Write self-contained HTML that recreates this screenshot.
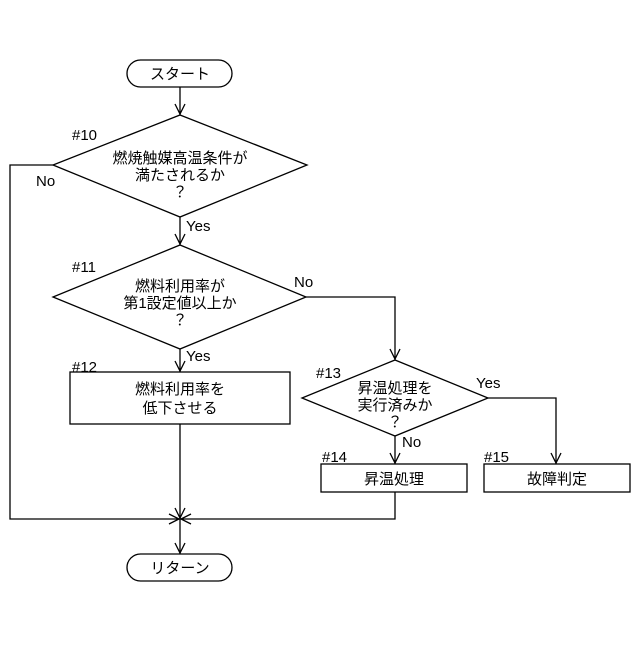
<!DOCTYPE html>
<html><head><meta charset="utf-8"><style>
body{margin:0;background:#fff}
svg text{font-family:"Liberation Sans","Noto Sans CJK JP",sans-serif;font-size:15px;fill:#000}
</style></head><body>
<svg width="640" height="640" viewBox="0 0 640 640" xmlns="http://www.w3.org/2000/svg">
<g fill="none" stroke="#000" stroke-width="1.3">
<rect x="127" y="60" width="105" height="27" rx="13.5"/>
<rect x="127" y="554" width="105" height="27" rx="13.5"/>
<polygon points="180,115 307,165 180,217 53,165"/>
<polygon points="180,245 306,297 180,349 53,297"/>
<polygon points="395,360 488,398 395,436 302,398"/>
<rect x="70" y="372" width="220" height="52"/>
<rect x="321" y="464" width="146" height="28"/>
<rect x="484" y="464" width="146" height="28"/>
<path d="M180,87V115 M180,217V245 M180,349V372 M180,424V554 M53,165H10V519H180 M395,492V519H180 M306,297H395V360 M488,398H556V464 M395,436V464"/>
<path d="M175,104L180,114L185,104 M175,234L180,244L185,234 M175,361L180,371L185,361 M175,543L180,553L185,543 M390,349L395,359L400,349 M390,453L395,463L400,453 M551,453L556,463L561,453 M169,514L179,519L169,524 M191,514L181,519L191,524 M175,508L180,518L185,508"/>
</g>
<g text-anchor="middle">
<text x="180" y="79">スタート</text>
<text x="180" y="573">リターン</text>
<text x="180" y="163">燃焼触媒高温条件が</text>
<text x="180" y="180">満たされるか</text>
<text x="180" y="197">？</text>
<text x="180" y="291">燃料利用率が</text>
<text x="180" y="308">第1設定値以上か</text>
<text x="180" y="325">？</text>
<text x="180" y="394">燃料利用率を</text>
<text x="180" y="413">低下させる</text>
<text x="395" y="393">昇温処理を</text>
<text x="395" y="410">実行済みか</text>
<text x="395" y="427">？</text>
<text x="394" y="484">昇温処理</text>
<text x="557" y="484">故障判定</text>
</g>
<g font-size="14">
<text x="72" y="140">#10</text>
<text x="72" y="272">#11</text>
<text x="72" y="372">#12</text>
<text x="316" y="378">#13</text>
<text x="322" y="462">#14</text>
<text x="484" y="462">#15</text>
<text x="36" y="186">No</text>
<text x="186" y="231">Yes</text>
<text x="294" y="287">No</text>
<text x="186" y="361">Yes</text>
<text x="476" y="388">Yes</text>
<text x="402" y="447">No</text>
</g>
</svg>
</body></html>
